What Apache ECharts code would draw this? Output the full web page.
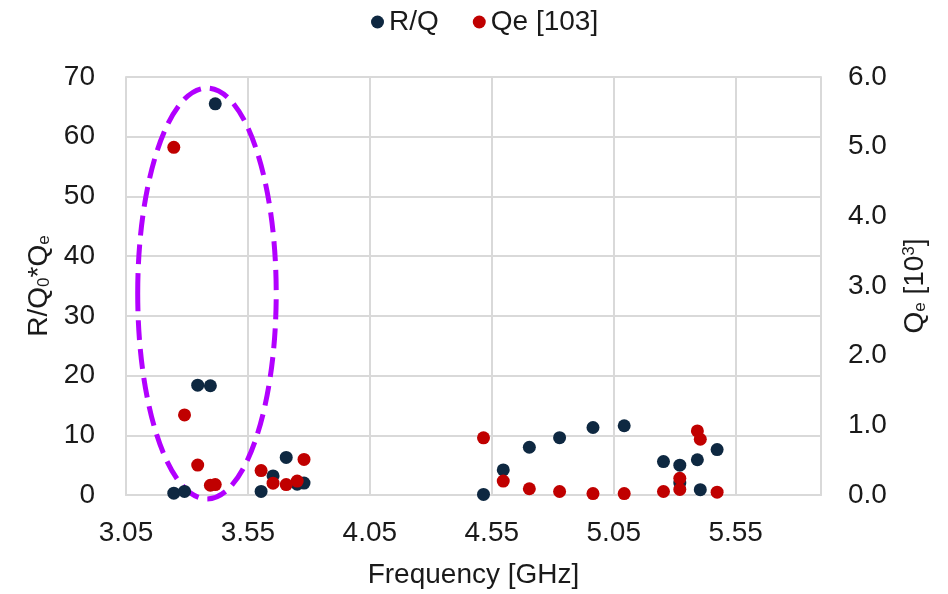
<!DOCTYPE html>
<html>
<head>
<meta charset="utf-8">
<script src="https://cdn.jsdelivr.net/npm/echarts@6/dist/echarts.min.js"></script>
<style>
  html, body { margin: 0; padding: 0; background: #fff; }
  #main { width: 948px; height: 594px; }
</style>
</head>
<body>
<div id="main"></div>
<script>
// mode frequencies [GHz], shared by both series
var freq = [3.246, 3.290, 3.344, 3.396, 3.416, 3.604, 3.653, 3.707, 3.752, 3.780,
            4.516, 4.597, 4.704, 4.828, 4.965, 5.093,
            5.254, 5.321, 5.321, 5.393, 5.405, 5.474];
// R/Q values (left axis)
var rq = [0.3, 0.6, 18.4, 18.3, 65.5, 0.6, 3.2, 6.3, 1.8, 2.0,
          0.1, 4.2, 8.0, 9.6, 11.3, 11.6,
          5.6, 5.0, 2.0, 5.9, 0.9, 7.6];
// Qe [10^3] values (right axis)
var qe = [4.99, 1.15, 0.43, 0.14, 0.15, 0.35, 0.17, 0.15, 0.20, 0.51,
          0.82, 0.20, 0.09, 0.05, 0.02, 0.02,
          0.05, 0.24, 0.08, 0.92, 0.80, 0.04];

var legendNames = ['R/Q', 'Qe [103]'];
// highlight ellipse, in data units (freq, R/Q)
var ringCenter = [3.382, 33.75];
var ringRadius = [0.284, 34.4];

function pairs(xs, ys) {
    var out = [];
    for (var i = 0; i < xs.length; ++ i) {
        out.push([xs[i], ys[i]]);
    }
    return out;
}

var font = 'Liberation Sans';
var txt = '#1a1a1a';
var lineCol = '#d9d9d9';
var fs = 28;

var chart = echarts.init(document.getElementById('main'));
var option = {
    animation: false,
    textStyle: { fontFamily: font },
    legend: {
        top: 3,
        left: 366,
        icon: 'circle',
        itemWidth: 13,
        itemHeight: 13,
        itemGap: 34,
        textStyle: { fontSize: fs, color: txt, fontFamily: font },
        data: legendNames
    },
    grid: { left: 126, right: 127, top: 77, bottom: 97 },
    xAxis: {
        type: 'value',
        min: 3.05,
        max: 5.9,
        interval: 0.5,
        name: 'Frequency [GHz]',
        nameLocation: 'middle',
        nameGap: 66,
        nameTextStyle: { fontSize: fs, color: txt, fontFamily: font },
        axisLine: { lineStyle: { color: lineCol, width: 2 } },
        axisTick: { show: false },
        splitLine: { lineStyle: { color: lineCol, width: 2 } },
        axisLabel: {
            fontSize: fs, color: txt, margin: 24,
            showMaxLabel: false,
            formatter: function (v) { return v > 5.6 ? '' : v.toFixed(2); }
        }
    },
    yAxis: [{
        type: 'value',
        min: 0,
        max: 70,
        interval: 10,
        name: 'R/Q{sub|0}*Q{sub|e}',
        nameLocation: 'middle',
        nameRotate: 90,
        nameGap: 64,
        nameTextStyle: {
            fontSize: fs, color: txt, fontFamily: font,
            rich: { sub: { fontSize: 17, color: txt, verticalAlign: 'bottom', fontFamily: font } }
        },
        axisLine: { show: true, lineStyle: { color: lineCol, width: 2 } },
        axisTick: { show: false },
        splitLine: { lineStyle: { color: lineCol, width: 2 } },
        axisLabel: { fontSize: fs, color: txt, margin: 31 }
    }, {
        type: 'value',
        min: 0,
        max: 6,
        interval: 1,
        name: 'Q{sub|e} [10{sup|3}]',
        nameLocation: 'middle',
        nameRotate: 90,
        nameGap: 80,
        nameTextStyle: {
            fontSize: fs, color: txt, fontFamily: font,
            rich: {
                sub: { fontSize: 17, color: txt, verticalAlign: 'bottom', fontFamily: font },
                sup: { fontSize: 17, color: txt, verticalAlign: 'top', fontFamily: font }
            }
        },
        axisLine: { show: true, lineStyle: { color: lineCol, width: 2 } },
        axisTick: { show: false },
        splitLine: { show: false },
        axisLabel: {
            fontSize: fs, color: txt, margin: 27,
            formatter: function (v) { return v.toFixed(1); }
        }
    }],
    series: [{
        name: legendNames[0],
        type: 'scatter',
        yAxisIndex: 0,
        symbolSize: 13,
        itemStyle: { color: '#0e2841', opacity: 1 },
        data: pairs(freq, rq)
    }, {
        name: legendNames[1],
        type: 'scatter',
        yAxisIndex: 1,
        symbolSize: 13,
        itemStyle: { color: '#c00000', opacity: 1 },
        data: pairs(freq, qe)
    }]
};
chart.setOption(option);

// dashed ring drawn through the axis scales
var c = chart.convertToPixel({ xAxisIndex: 0, yAxisIndex: 0 }, ringCenter);
var e = chart.convertToPixel({ xAxisIndex: 0, yAxisIndex: 0 },
    [ringCenter[0] + ringRadius[0], ringCenter[1] + ringRadius[1]]);
chart.setOption({
    graphic: [{
        type: 'ellipse',
        shape: { cx: c[0], cy: c[1], rx: e[0] - c[0], ry: c[1] - e[1] },
        style: { fill: 'none', stroke: '#b200ff', lineWidth: 5, lineDash: [20, 9] },
        z: 1
    }]
});
</script>
</body>
</html>
